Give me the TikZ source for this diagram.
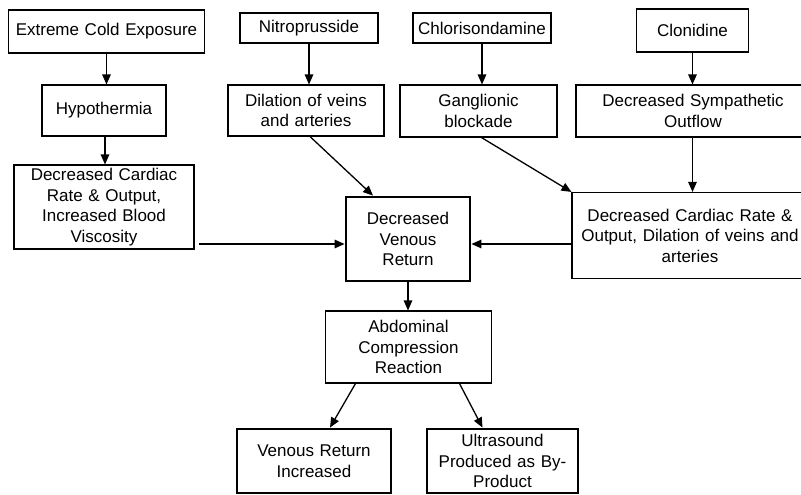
\documentclass[tikz,border=0pt]{standalone}
\usepackage{fontspec}
\setmainfont{Liberation Sans}
\usetikzlibrary{arrows.meta}

\begin{document}
\begin{tikzpicture}
    [x=1pt, y=-1pt,
    box/.style={draw, rectangle, align=center, inner sep=0pt, line width=1.1pt,
        font=\fontsize{17}{20.5}\selectfont},
    thick box/.style={box, line width=2.8pt},
    arr/.style={-{Triangle[length=10pt,width=8.5pt]}, line width=1.3pt}]

    \clip (0,0) rectangle (801,495);
    \fill[white] (0,0) rectangle (801,495);

    % left column
    \node[box, text width=196pt, minimum height=43pt] (cold) at (106.5,31.5) {Extreme Cold Exposure};
    \node[box, text width=124pt, minimum height=51pt] (hypo) at (104,110.5) {Hypothermia};
    \node[box, text width=180pt, minimum height=84pt] (leftdec) at (104,207)
        {Decreased Cardiac\\Rate \& Output,\\Increased Blood\\Viscosity};

    % drugs
    \node[box, text width=138pt, minimum height=30pt] (nitro) at (309,28) {Nitroprusside};
    \node[box, text width=156pt, minimum height=51pt] (dilation) at (306,110.5) {Dilation of veins\\and arteries};
    \node[box, text width=138pt, minimum height=30pt] (chloro) at (482,28) {Chlorisondamine};
    \node[box, text width=157pt, minimum height=52pt] (gang) at (478.5,111) {Ganglionic\\blockade};
    \node[box, text width=112pt, minimum height=43pt] (clon) at (692.5,30.5) {Clonidine};
    \node[box, text width=234pt, minimum height=52pt] (symp) at (693,111) {Decreased Sympathetic\\Outflow};
    \node[box, text width=236pt, minimum height=86pt] (rightdec) at (690,235.5)
        {Decreased Cardiac Rate \&\\Output, Dilation of veins and\\arteries};

    % centre and bottom
    \node[thick box, text width=124pt, minimum height=84pt] (venous) at (408,239) {Decreased\\Venous\\Return};
    \node[box, text width=166pt, minimum height=72pt] (abd) at (408.5,347) {Abdominal\\Compression\\Reaction};
    \node[thick box, text width=154pt, minimum height=64pt] (vri) at (314,461) {Venous Return\\Increased};
    \node[thick box, text width=151pt, minimum height=64pt] (ultra) at (502.5,461)
        {Ultrasound\\Produced as By-\\Product};

    % arrows
    \draw[arr] (cold.south) -- (cold.south |- hypo.north);
    \draw[arr] ([xshift=1pt]hypo.south) -- ([xshift=1pt]hypo.south |- leftdec.north);
    \draw[arr] (nitro.south) -- (nitro.south |- dilation.north);
    \draw[arr] (chloro.south) -- (chloro.south |- gang.north);
    \draw[arr] (clon.south) -- (clon.south |- symp.north);
    \draw[arr] ([xshift=-0.5pt]symp.south) -- ([xshift=-0.5pt]symp.south |- rightdec.north);
    \draw[arr] ([xshift=4pt]dilation.south) -- ([xshift=-35pt]venous.north);
    \draw[arr] ([xshift=3pt]gang.south) -- (rightdec.north west);
    \draw[arr] ([shift={(4,5)}]leftdec.east |- venous.west) -- ([yshift=-5pt]venous.west);
    \draw[arr] ([yshift=-5pt]rightdec.west |- venous.west) -- ([yshift=-5pt]venous.east);
    \draw[arr] (venous.south) -- (venous.south |- abd.north);
    \draw[arr] ([xshift=-53pt]abd.south) -- ([xshift=16pt]vri.north);
    \draw[arr] ([xshift=51pt]abd.south) -- ([xshift=-20pt]ultra.north);
\end{tikzpicture}
\end{document}
